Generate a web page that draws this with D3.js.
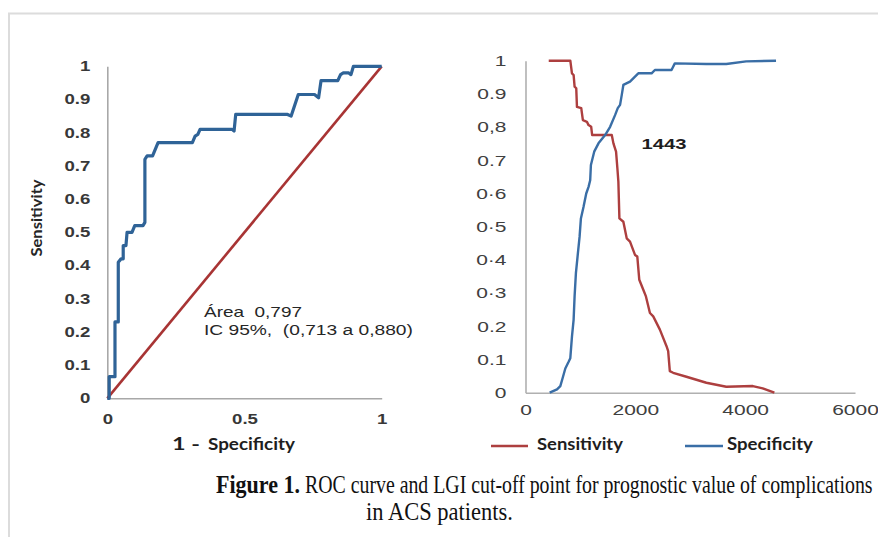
<!DOCTYPE html>
<html><head><meta charset="utf-8">
<script src="https://cdn.jsdelivr.net/npm/d3@7"></script>
<style>body{margin:0;background:#fff}svg{display:block}text{white-space:pre}</style>
</head><body>
<svg id="chart" width="878" height="537"></svg>
<script>
// ---------- Data: ROC curve (left) ----------
const rocFpr = [0,0.007,0.007,0.028,0.028,0.04,0.04,0.05,0.058,0.058,0.068,0.072,0.09,0.1,0.13,0.137,0.137,0.145,0.165,0.185,0.31,0.32,0.33,0.338,0.455,0.462,0.468,0.657,0.67,0.696,0.755,0.77,0.779,0.84,0.85,0.86,0.88,0.888,0.897,1];
const rocTpr = [0,0,0.065,0.065,0.23,0.23,0.41,0.42,0.42,0.46,0.46,0.5,0.5,0.52,0.52,0.53,0.72,0.73,0.73,0.77,0.77,0.79,0.795,0.81,0.81,0.805,0.855,0.855,0.85,0.915,0.915,0.905,0.957,0.957,0.975,0.98,0.98,0.975,1,1];
const chanceLine = [0,1];
const leftYTicks = [0,0.1,0.2,0.3,0.4,0.5,0.6,0.7,0.8,0.9,1];
const leftYLabels = ["0","0.1","0.2","0.3","0.4","0.5","0.6","0.7","0.8","0.9","1"];
const leftXTicks = [0,0.5,1];
const leftXLabels = ["0","0.5","1"];

// ---------- Data: cut-off curves (right) ----------
const sensThr = [423,816,846,876,894,924,937,1015,1045,1118,1148,1196,1214,1571,1601,1649,1673,1691,1710,1782,1843,1903,1994,2036,2072,2145,2193,2266,2326,2447,2568,2598,2628,2689,2930,3293,3656,4139,4320,4532];
const sensVals = [1,1,0.962,0.957,0.922,0.917,0.861,0.857,0.821,0.816,0.806,0.801,0.776,0.776,0.751,0.726,0.676,0.636,0.525,0.515,0.465,0.455,0.415,0.41,0.34,0.31,0.29,0.24,0.23,0.19,0.14,0.125,0.065,0.06,0.048,0.03,0.018,0.02,0.013,0];
const specThr = [440,574,634,683,725,785,816,846,876,894,918,948,985,1009,1057,1106,1148,1178,1191,1251,1329,1450,1541,1631,1680,1722,1753,1782,1903,1994,2054,2296,2356,2659,2719,3293,3656,4018,4562];
const specVals = [0,0.01,0.02,0.048,0.073,0.093,0.104,0.169,0.219,0.29,0.36,0.41,0.47,0.525,0.56,0.6,0.62,0.64,0.686,0.726,0.751,0.776,0.801,0.836,0.857,0.867,0.897,0.927,0.937,0.952,0.962,0.962,0.972,0.972,0.992,0.99,0.99,0.998,1];
const rightYTicks = [0,0.1,0.2,0.3,0.4,0.5,0.6,0.7,0.8,0.9,1];
const rightYLabels = ["0","0.1","0.2","0·3","0·4","0·5","0·6","0.7","0,8","0.9","1"];
const rightXTicks = [0,2000,4000,6000];
const rightXLabels = ["0","2000","4000","6000"];
const cutoffLabel = "1443";
const legendLabels = ["Sensitivity","Specificity"];

// ---------- Drawing ----------
const svg = d3.select("#chart");
const SANS = "'Liberation Sans', Arial, sans-serif";

// frame
svg.append("path").attr("d","M9,537V13.5H878").attr("fill","none").attr("stroke","#dcdcdc").attr("stroke-width",2);

function stretch(g, k){
  g.selectAll("text").each(function(){
    const t = d3.select(this);
    const x = +t.attr("x") || 0;
    t.attr("x", x/k).attr("transform", `scale(${k},1)`);
  });
}
// text fitted to a target width by horizontal scaling (keeps real text)
function label(x, y, str, o){
  const t = svg.append("text").attr("x",0).attr("y",0).text(str)
    .attr("font-family", o.family || SANS).attr("font-size", o.size)
    .attr("font-weight", o.weight || "normal").attr("fill", o.fill || "#222")
    .attr("text-anchor", o.anchor || "start");
  const k = o.len ? o.len / t.node().getComputedTextLength() : 1;
  t.attr("transform", `translate(${x},${y})` + (o.rotate ? ` rotate(${o.rotate})` : "") + ` scale(${k},1)`);
  return t;
}

// ===== Left: ROC =====
const xL = d3.scaleLinear().domain([0,1]).range([107.3,381.7]);
const yL = d3.scaleLinear().domain([0,1]).range([398.3,66.3]);

const axYL = svg.append("g").attr("transform",`translate(${xL(0)},0)`)
  .call(d3.axisLeft(yL).tickValues(leftYTicks).tickFormat((d,i)=>leftYLabels[i]).tickSize(0).tickPadding(17));
const axXL = svg.append("g").attr("transform",`translate(0,${yL(0)})`)
  .call(d3.axisBottom(xL).tickValues(leftXTicks).tickFormat((d,i)=>leftXLabels[i]).tickSize(0).tickPadding(16));
[axYL, axXL].forEach(g=>{
  g.select(".domain").attr("stroke","#a8a8a8").attr("stroke-width",1.6);
  g.selectAll("text").attr("font-family",SANS).attr("font-weight","bold").attr("font-size",14).attr("fill","#383838");
  stretch(g, 1.33);
});

const lineL = d3.line().x(d=>xL(d[0])).y(d=>yL(d[1]));
svg.append("path").datum(chanceLine.map(v=>[v,v])).attr("d",lineL)
  .attr("fill","none").attr("stroke","#a83434").attr("stroke-width",2.6);
svg.append("path").datum(rocFpr.map((v,i)=>[v,rocTpr[i]])).attr("d",lineL)
  .attr("fill","none").attr("stroke","#2f6397").attr("stroke-width",3.2).attr("stroke-linejoin","round");

label(204,317,"Área  0,797",{size:14,len:98,fill:"#262626"});
label(204,335,"IC 95%,  (0,713 a 0,880)",{size:14,len:209,fill:"#262626"});
label(42,218,"Sensitivity",{size:15,weight:"bold",family:"Lato, sans-serif",len:77,anchor:"middle",rotate:-90,fill:"#262626"});
label(172,450,"1 -",{size:17,weight:"bold",family:"Lato, sans-serif",len:28,fill:"#1e1e1e"});
label(208,450,"Specificity",{size:17,weight:"bold",family:"Lato, sans-serif",len:87,fill:"#1e1e1e"});

// ===== Right: cut-off =====
const xR = d3.scaleLinear().domain([0,6000]).range([525.5,855]);
const yR = d3.scaleLinear().domain([0,1]).range([392.7,60.7]);

const axYR = svg.append("g").attr("transform",`translate(${xR(0)},0)`)
  .call(d3.axisLeft(yR).tickValues(rightYTicks).tickFormat((d,i)=>rightYLabels[i]).tickSize(0).tickPadding(19));
const axXR = svg.append("g").attr("transform",`translate(0,${yR(0)})`)
  .call(d3.axisBottom(xR).tickValues(rightXTicks).tickFormat((d,i)=>rightXLabels[i]).tickSize(0).tickPadding(12));
[axYR, axXR].forEach(g=>{
  g.select(".domain").attr("stroke","#b0b0b0").attr("stroke-width",1.6);
  g.selectAll("text").attr("font-family",SANS).attr("font-weight","normal").attr("font-size",15).attr("fill","#404040");
  stretch(g, 1.4);
});

const lineR = d3.line().x(d=>xR(d[0])).y(d=>yR(d[1]));
const sensColor = "#ad3f3f", specColor = "#3a6ea6";
svg.append("path").datum(sensThr.map((v,i)=>[v,sensVals[i]])).attr("d",lineR)
  .attr("fill","none").attr("stroke",sensColor).attr("stroke-width",2.4).attr("stroke-linejoin","round");
svg.append("path").datum(specThr.map((v,i)=>[v,specVals[i]])).attr("d",lineR)
  .attr("fill","none").attr("stroke",specColor).attr("stroke-width",2.4).attr("stroke-linejoin","round");

label(641.5,149,cutoffLabel,{size:15,weight:"bold",len:45,fill:"#1e1e1e"});

// legend
const legend = [
  {name:legendLabels[0], color:sensColor, x0:491, x1:528, tx:537},
  {name:legendLabels[1], color:specColor, x0:685, x1:723, tx:727}
];
legend.forEach(l=>{
  svg.append("line").attr("x1",l.x0).attr("x2",l.x1).attr("y1",446).attr("y2",446)
    .attr("stroke",l.color).attr("stroke-width",2.5);
  label(l.tx,450,l.name,{size:17,weight:"bold",family:"Lato, sans-serif",len:86,fill:"#1e1e1e"});
});

// ===== Caption =====
const SERIF = "'Liberation Serif', 'Times New Roman', serif";
label(216,493,"Figure 1.",{size:25,weight:"bold",family:SERIF,len:84,fill:"#111"});
label(305,493,"ROC curve and LGI cut-off point for prognostic value of complications",{size:25,family:SERIF,len:568,fill:"#111"});
label(366,520,"in ACS patients.",{size:25,family:SERIF,len:147,fill:"#111"});
</script>
</body></html>
